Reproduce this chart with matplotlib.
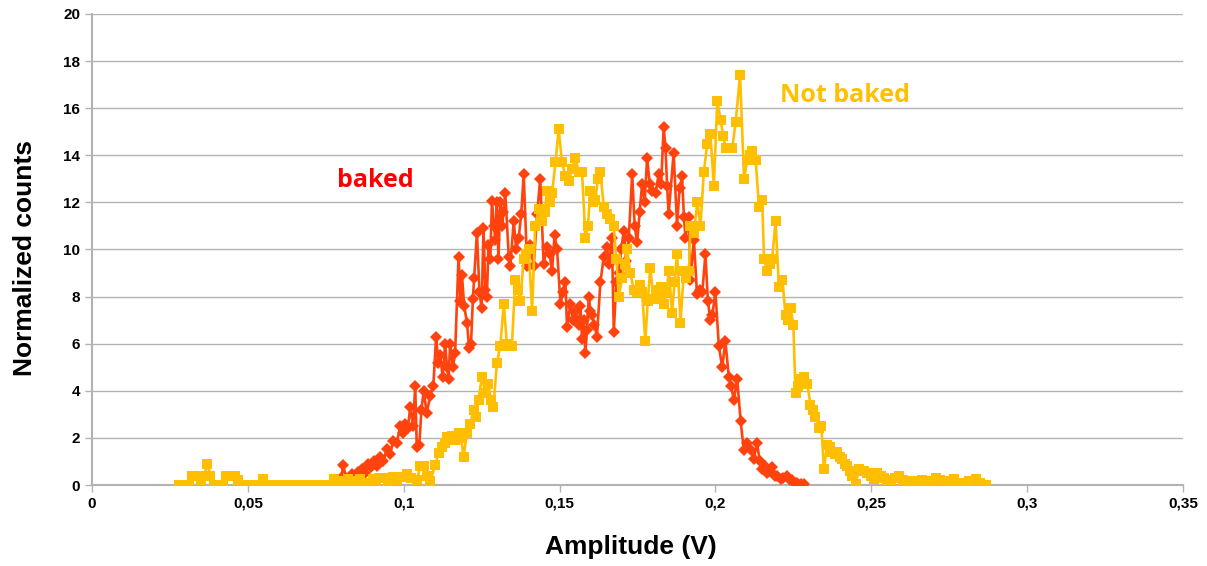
import matplotlib
matplotlib.use('Agg')
import matplotlib.pyplot as plt
from matplotlib.ticker import FuncFormatter, MultipleLocator

# values (amplitude in V, normalized counts)
baked_x = [0.0770, 0.0780, 0.0790, 0.0800, 0.0806, 0.0815, 0.0825, 0.0835, 0.0845, 0.0855,
           0.0865, 0.0875, 0.0885, 0.0895, 0.0905, 0.0915, 0.0925, 0.0935, 0.0946, 0.0956,
           0.0966, 0.0978, 0.0989, 0.0998, 0.1005, 0.1013, 0.1021, 0.1030, 0.1037, 0.1042,
           0.1050, 0.1057, 0.1064, 0.1074, 0.1085, 0.1095, 0.1104, 0.1111, 0.1117, 0.1125,
           0.1133, 0.1139, 0.1144, 0.1149, 0.1158, 0.1165, 0.1176, 0.1182, 0.1187, 0.1194,
           0.1203, 0.1210, 0.1216, 0.1222, 0.1226, 0.1235, 0.1243, 0.1250, 0.1256, 0.1262,
           0.1267, 0.1272, 0.1278, 0.1283, 0.1290, 0.1294, 0.1299, 0.1304, 0.1310, 0.1316,
           0.1320, 0.1326, 0.1337, 0.1342, 0.1353, 0.1361, 0.1369, 0.1377, 0.1385, 0.1396,
           0.1406, 0.1417, 0.1428, 0.1438, 0.1449, 0.1460, 0.1468, 0.1476, 0.1484, 0.1492,
           0.1503, 0.1511, 0.1519, 0.1524, 0.1535, 0.1543, 0.1551, 0.1561, 0.1567, 0.1572,
           0.1577, 0.1583, 0.1588, 0.1594, 0.1599, 0.1604, 0.1612, 0.1620, 0.1631, 0.1642,
           0.1652, 0.1660, 0.1668, 0.1674, 0.1682, 0.1690, 0.1698, 0.1706, 0.1714, 0.1722,
           0.1733, 0.1741, 0.1749, 0.1757, 0.1765, 0.1773, 0.1781, 0.1789, 0.1797, 0.1808,
           0.1818, 0.1826, 0.1834, 0.1840, 0.1845, 0.1850, 0.1866, 0.1877, 0.1885, 0.1893,
           0.1899, 0.1904, 0.1915, 0.1920, 0.1931, 0.1941, 0.1952, 0.1958, 0.1968, 0.1976,
           0.1984, 0.1990, 0.2000, 0.2011, 0.2022, 0.2032, 0.2043, 0.2051, 0.2059, 0.2070,
           0.2081, 0.2091, 0.2102, 0.2113, 0.2123, 0.2134, 0.2142, 0.2150, 0.2158, 0.2166,
           0.2174, 0.2182, 0.2190, 0.2198, 0.2209, 0.2218, 0.2230, 0.2238, 0.2246, 0.2254,
           0.2262, 0.2273, 0.2284]
baked_y = [0.0, 0.1, 0.2, 0.3, 0.85, 0.3, 0.2, 0.45, 0.35, 0.55,
           0.7, 0.5, 0.9, 0.75, 1.0, 0.8, 1.2, 1.0, 1.55, 1.3,
           1.85, 1.8, 2.5, 2.2, 2.6, 2.4, 3.3, 2.5, 4.2, 1.6,
           1.7, 3.2, 4.0, 3.05, 3.8, 4.2, 6.3, 5.2, 5.5, 4.6,
           6.0, 5.0, 4.5, 6.0, 5.0, 5.6, 9.7, 7.8, 8.9, 7.6,
           6.9, 5.8, 6.0, 7.9, 8.8, 10.7, 8.2, 7.5, 10.9, 8.3,
           8.0, 10.2, 9.6, 12.05, 11.0, 10.4, 12.0, 9.6, 12.0, 11.0,
           11.6, 12.4, 9.7, 9.3, 11.2, 10.0, 10.5, 11.5, 13.2, 9.3,
           10.2, 9.3, 11.5, 13.0, 9.4, 10.1, 9.8, 9.1, 10.6, 10.0,
           7.7, 8.2, 8.6, 6.7, 7.7, 7.0, 7.4, 6.8, 7.6, 6.2,
           7.0, 5.6, 6.6, 8.0, 7.4, 7.2, 6.8, 6.3, 8.6, 9.7,
           10.1, 9.4, 10.5, 6.5, 8.6, 9.0, 10.0, 10.8, 9.5, 10.5,
           13.2, 11.0, 10.3, 11.6, 12.8, 12.0, 13.9, 12.8, 12.5, 12.4,
           13.2, 12.8, 15.2, 14.3, 12.7, 11.5, 14.1, 11.0, 12.6, 13.1,
           11.4, 10.5, 11.4, 8.7, 10.4, 8.1, 8.3, 8.2, 9.8, 7.8,
           7.0, 7.2, 8.2, 5.9, 5.0, 6.1, 4.6, 4.2, 3.6, 4.5,
           2.7, 1.5, 1.8, 1.5, 1.1, 1.8, 1.0, 0.7, 0.8, 0.5,
           0.6, 0.75, 0.4, 0.4, 0.25, 0.3, 0.4, 0.2, 0.2, 0.1,
           0.1, 0.05, 0.04]

notbaked_x = [0.0280, 0.0290, 0.0300, 0.0310, 0.0320, 0.0330, 0.0340, 0.0350, 0.0360, 0.0370,
              0.0380, 0.0390, 0.0400, 0.0410, 0.0420, 0.0430, 0.0440, 0.0450, 0.0460, 0.0470,
              0.0480, 0.0490, 0.0500, 0.0510, 0.0520, 0.0530, 0.0540, 0.0550, 0.0560, 0.0570,
              0.0580, 0.0590, 0.0600, 0.0610, 0.0620, 0.0630, 0.0640, 0.0650, 0.0660, 0.0670,
              0.0680, 0.0690, 0.0700, 0.0710, 0.0720, 0.0730, 0.0740, 0.0750, 0.0760, 0.0775,
              0.0790, 0.0800, 0.0810, 0.0820, 0.0830, 0.0840, 0.0850, 0.0860, 0.0870, 0.0880,
              0.0890, 0.0900, 0.0910, 0.0920, 0.0935, 0.0950, 0.0965, 0.0980, 0.0999, 0.1010,
              0.1025, 0.1042, 0.1053, 0.1064, 0.1075, 0.1085, 0.1101, 0.1112, 0.1123, 0.1131,
              0.1139, 0.1147, 0.1155, 0.1165, 0.1176, 0.1184, 0.1192, 0.1203, 0.1214, 0.1224,
              0.1232, 0.1240, 0.1251, 0.1262, 0.1272, 0.1280, 0.1288, 0.1299, 0.1310, 0.1321,
              0.1331, 0.1337, 0.1347, 0.1358, 0.1366, 0.1374, 0.1385, 0.1393, 0.1401, 0.1412,
              0.1422, 0.1433, 0.1444, 0.1452, 0.1460, 0.1468, 0.1476, 0.1487, 0.1497, 0.1508,
              0.1519, 0.1529, 0.1540, 0.1551, 0.1561, 0.1572, 0.1583, 0.1591, 0.1599, 0.1607,
              0.1615, 0.1623, 0.1631, 0.1642, 0.1652, 0.1663, 0.1674, 0.1682, 0.1690, 0.1701,
              0.1709, 0.1717, 0.1727, 0.1738, 0.1749, 0.1757, 0.1765, 0.1775, 0.1783, 0.1791,
              0.1802, 0.1810, 0.1818, 0.1827, 0.1835, 0.1843, 0.1851, 0.1861, 0.1869, 0.1877,
              0.1888, 0.1899, 0.1907, 0.1915, 0.1920, 0.1931, 0.1942, 0.1952, 0.1963, 0.1974,
              0.1984, 0.1995, 0.2006, 0.2017, 0.2025, 0.2033, 0.2043, 0.2054, 0.2065, 0.2079,
              0.2092, 0.2102, 0.2110, 0.2118, 0.2129, 0.2140, 0.2150, 0.2156, 0.2166, 0.2174,
              0.2182, 0.2193, 0.2204, 0.2215, 0.2225, 0.2233, 0.2241, 0.2250, 0.2257, 0.2265,
              0.2273, 0.2284, 0.2295, 0.2305, 0.2313, 0.2321, 0.2332, 0.2340, 0.2348, 0.2359,
              0.2367, 0.2375, 0.2383, 0.2391, 0.2399, 0.2407, 0.2415, 0.2423, 0.2431, 0.2439,
              0.2450, 0.2461, 0.2468, 0.2476, 0.2487, 0.2498, 0.2509, 0.2519, 0.2530, 0.2541,
              0.2552, 0.2563, 0.2576, 0.2589, 0.2602, 0.2615, 0.2630, 0.2648, 0.2664, 0.2680,
              0.2694, 0.2707, 0.2720, 0.2734, 0.2750, 0.2766, 0.2782, 0.2798, 0.2815, 0.2835,
              0.2850, 0.2868]
notbaked_y = [0.0, 0.0, 0.0, 0.0, 0.4, 0.4, 0.4, 0.2, 0.4, 0.9,
              0.4, 0.0, 0.0, 0.0, 0.0, 0.4, 0.4, 0.4, 0.4, 0.2,
              0.0, 0.0, 0.0, 0.0, 0.0, 0.0, 0.0, 0.25, 0.0, 0.0,
              0.0, 0.0, 0.0, 0.0, 0.0, 0.0, 0.0, 0.0, 0.0, 0.0,
              0.0, 0.0, 0.0, 0.0, 0.0, 0.0, 0.0, 0.0, 0.0, 0.25,
              0.1, 0.15, 0.0, 0.25, 0.1, 0.15, 0.0, 0.25, 0.1, 0.1,
              0.0, 0.25, 0.1, 0.3, 0.3, 0.15, 0.35, 0.2, 0.35, 0.45,
              0.3, 0.2, 0.8, 0.8, 0.4, 0.15, 0.85, 1.35, 1.6, 1.8,
              2.05, 1.9, 2.1, 1.9, 2.2, 2.0, 1.2, 2.2, 2.6, 3.2,
              2.9, 3.6, 4.6, 3.9, 4.3, 3.6, 3.3, 5.2, 5.9, 7.7,
              6.0, 5.9, 5.9, 8.7, 8.3, 7.8, 9.6, 9.8, 10.0, 7.4,
              11.0, 11.7, 11.2, 11.6, 12.5, 12.0, 12.4, 13.7, 15.1, 13.7,
              13.1, 12.9, 13.4, 13.9, 13.3, 13.3, 10.5, 11.0, 12.5, 12.0,
              12.1, 13.0, 13.3, 11.8, 11.5, 11.3, 11.0, 9.6, 8.0, 8.8,
              9.4, 10.0, 9.0, 8.3, 8.2, 8.5, 8.2, 6.1, 7.8, 9.2,
              7.9, 8.3, 7.9, 8.4, 7.7, 8.2, 9.1, 7.3, 8.6, 9.8,
              6.9, 9.1, 8.8, 9.1, 11.0, 10.7, 12.0, 11.0, 13.3, 14.5,
              14.9, 12.7, 16.3, 15.5, 14.8, 14.3, 14.3, 14.3, 15.4, 17.4,
              13.0, 13.8, 14.0, 14.2, 13.8, 11.8, 12.1, 9.6, 9.1, 9.4,
              9.6, 11.2, 8.4, 8.7, 7.2, 7.0, 7.5, 6.8, 3.9, 4.2,
              4.5, 4.6, 4.3, 3.4, 3.2, 2.9, 2.4, 2.5, 0.7, 1.7,
              1.6, 1.4, 1.3, 1.4, 1.2, 1.1, 0.9, 0.8, 0.6, 0.4,
              0.04, 0.7, 0.6, 0.6, 0.5, 0.4, 0.25, 0.5, 0.4, 0.3,
              0.2, 0.2, 0.3, 0.4, 0.2, 0.1, 0.15, 0.1, 0.2, 0.15,
              0.1, 0.3, 0.2, 0.1, 0.15, 0.25, 0.1, 0.1, 0.15, 0.25,
              0.1, 0.0]

RED = '#ff420e'
YELLOW = '#ffbf00'
GRID = '#b3b3b3'

fig = plt.figure(figsize=(12.07, 5.66), dpi=100)
ax = fig.add_axes([0.0762, 0.1431, 0.9039, 0.8322])

ax.plot(baked_x, baked_y, color=RED, lw=1.9, marker='D', markersize=6.3,
        markeredgewidth=0, zorder=3)
ax.plot(notbaked_x, notbaked_y, color=YELLOW, lw=1.9, marker='s', markersize=7.3,
        markeredgewidth=0, zorder=4)

ax.set_xlim(0, 0.35)
ax.set_ylim(0, 20)
ax.xaxis.set_major_locator(MultipleLocator(0.05))
ax.yaxis.set_major_locator(MultipleLocator(2))
ax.xaxis.set_major_formatter(FuncFormatter(lambda v, p: ('%g' % round(v, 3)).replace('.', ',')))

ax.grid(axis='y', color=GRID, lw=1)
ax.set_axisbelow(True)
for s in ['top', 'right']:
    ax.spines[s].set_visible(False)
for s in ['left', 'bottom']:
    ax.spines[s].set_color(GRID)
    ax.spines[s].set_linewidth(1.5)
ax.tick_params(colors=GRID, labelcolor='black', length=5, width=1)
for lab in ax.get_xticklabels() + ax.get_yticklabels():
    lab.set_fontfamily('Liberation Sans')
    lab.set_fontweight('bold')
    lab.set_fontsize(11)

ax.set_xlabel('Amplitude (V)', fontsize=19, fontweight='bold', family='Liberation Sans')
ax.set_ylabel('Normalized counts', fontsize=19, fontweight='bold', family='Liberation Sans')
ax.xaxis.set_label_coords(0.494, -0.106)
ax.yaxis.set_label_coords(-0.05, 0.482)

ax.text(0.0909, 12.95, 'baked', color='#ff0000', fontsize=18, fontweight='bold',
        family='Open Sans', ha='center', va='center')
ax.text(0.2415, 16.55, 'Not baked', color='#ffc000', fontsize=18, fontweight='bold',
        family='Open Sans', ha='center', va='center')

fig.savefig('out.png', dpi=100)
